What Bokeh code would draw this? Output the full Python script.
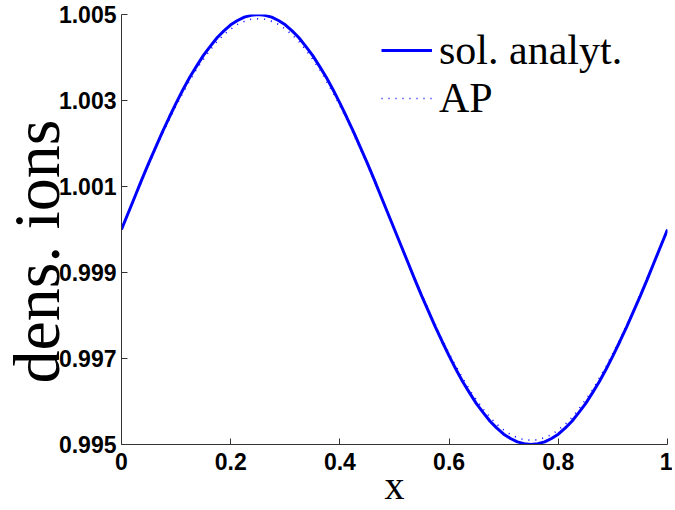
from bokeh.plotting import figure
from bokeh.models import FixedTicker, Legend, LegendItem, Range1d, Title
from bokeh.embed import file_html
from bokeh.resources import INLINE

x_vals = [i * 0.0125 for i in range(81)]
sol_analyt = [1.00000, 1.00039, 1.00078, 1.00117, 1.00155, 1.00191, 1.00227, 1.00261, 1.00294, 1.00325,
              1.00354, 1.00380, 1.00405, 1.00426, 1.00446, 1.00462, 1.00476, 1.00486, 1.00494, 1.00498,
              1.00500,
              1.00498, 1.00494, 1.00486, 1.00476, 1.00462, 1.00446, 1.00426, 1.00405, 1.00380, 1.00354,
              1.00325, 1.00294, 1.00261, 1.00227, 1.00191, 1.00155, 1.00117, 1.00078, 1.00039, 1.00000,
              0.99961, 0.99922, 0.99883, 0.99845, 0.99809, 0.99773, 0.99739, 0.99706, 0.99675, 0.99646,
              0.99620, 0.99595, 0.99574, 0.99554, 0.99538, 0.99524, 0.99514, 0.99506, 0.99502, 0.99500,
              0.99502, 0.99506, 0.99514, 0.99524, 0.99538, 0.99554, 0.99574, 0.99595, 0.99620, 0.99646,
              0.99675, 0.99706, 0.99739, 0.99773, 0.99809, 0.99845, 0.99883, 0.99922, 0.99961, 1.00000]
ap_vals = [1.00000, 1.00038, 1.00077, 1.00114, 1.00151, 1.00188, 1.00222, 1.00256, 1.00288, 1.00318,
           1.00346, 1.00373, 1.00396, 1.00418, 1.00437, 1.00453, 1.00466, 1.00477, 1.00484, 1.00489,
           1.00490,
           1.00489, 1.00484, 1.00477, 1.00466, 1.00453, 1.00437, 1.00418, 1.00396, 1.00373, 1.00346,
           1.00318, 1.00288, 1.00256, 1.00222, 1.00188, 1.00151, 1.00114, 1.00077, 1.00038, 1.00000,
           0.99962, 0.99923, 0.99886, 0.99849, 0.99812, 0.99778, 0.99744, 0.99712, 0.99682, 0.99654,
           0.99627, 0.99604, 0.99582, 0.99563, 0.99547, 0.99534, 0.99523, 0.99516, 0.99511, 0.99510,
           0.99511, 0.99516, 0.99523, 0.99534, 0.99547, 0.99563, 0.99582, 0.99604, 0.99627, 0.99654,
           0.99682, 0.99712, 0.99744, 0.99778, 0.99812, 0.99849, 0.99886, 0.99923, 0.99962, 1.00000]
x_ticks = [0, 0.2, 0.4, 0.6, 0.8, 1]
x_tick_labels = ["0", "0.2", "0.4", "0.6", "0.8", "1"]
y_ticks = [0.995, 0.997, 0.999, 1.001, 1.003, 1.005]
y_tick_labels = ["0.995", "0.997", "0.999", "1.001", "1.003", "1.005"]
y_label = "dens. ions"
x_label = "x"

p = figure(width=672, height=506, output_backend="svg", toolbar_location=None,
           x_range=Range1d(0, 1), y_range=Range1d(0.995, 1.005),
           min_border_left=121, min_border_right=5, min_border_top=14, min_border_bottom=62)
p.outline_line_color = None
p.grid.visible = False
p.background_fill_color = "white"

l1 = p.line(x_vals, sol_analyt, line_color="#0000ff", line_width=3)
l2 = p.line(x_vals, ap_vals, line_color="#0000ff", line_width=1.6, line_dash="1 6")

for ax, ticks, labels in ((p.xaxis[0], x_ticks, x_tick_labels), (p.yaxis[0], y_ticks, y_tick_labels)):
    ax.ticker = FixedTicker(ticks=ticks)
    ax.major_label_overrides = {t: s for t, s in zip(ticks, labels)}
    ax.minor_tick_line_color = None
    ax.major_tick_in = 6
    ax.major_tick_out = 0
    ax.axis_line_color = "#333333"
    ax.major_tick_line_color = "#333333"
    ax.major_label_text_font = "Liberation Sans"
    ax.major_label_text_font_style = "bold"
    ax.major_label_text_font_size = "23px"
    ax.major_label_text_color = "black"
p.xaxis.major_label_standoff = 8
p.yaxis.major_label_standoff = 5

p.add_layout(Title(text=y_label, align="left", standoff=-34, offset=61,
                   text_font="Liberation Serif", text_font_style="normal",
                   text_font_size="66px", text_color="black"), "left")
p.add_layout(Title(text=x_label, align="center", standoff=-24, offset=0,
                   text_font="Liberation Serif", text_font_style="normal",
                   text_font_size="40px", text_color="black"), "below")

legend = Legend(items=[LegendItem(label="sol. analyt.", renderers=[l1]),
                       LegendItem(label="AP", renderers=[l2])],
                location=(260, 322), padding=0, margin=0, spacing=0,
                glyph_width=51, glyph_height=48, label_height=48, label_standoff=7,
                label_text_font="Liberation Serif", label_text_font_size="42px",
                label_text_color="black", border_line_color=None, background_fill_alpha=0)
p.add_layout(legend)

open("out.html", "w").write(file_html(p, INLINE))
